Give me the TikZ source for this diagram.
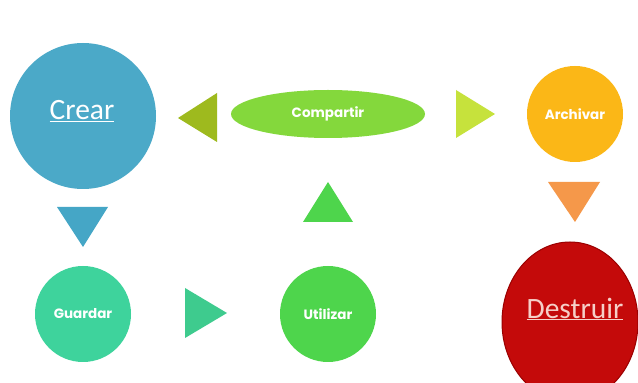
\documentclass[tikz,border=0pt]{standalone}
\usepackage{fontspec}
\usetikzlibrary{shapes.geometric}
\setmainfont{Carlito}
\newfontfamily\labelfont{Poppins}
\definecolor{crearblue}{HTML}{4BA9C8}
\definecolor{oliveleft}{HTML}{9EBA1E}
\definecolor{sharegreen}{HTML}{84D83C}
\definecolor{limeright}{HTML}{C6E23C}
\definecolor{archiveamber}{HTML}{FBB717}
\definecolor{downorange}{HTML}{F5984A}
\definecolor{destroyred}{HTML}{C40A0A}
\definecolor{destroyedge}{HTML}{9A0000}
\definecolor{destroytext}{HTML}{F6CFC8}
\definecolor{downblue}{HTML}{45A6C6}
\definecolor{saveteal}{HTML}{3ED39C}
\definecolor{tealright}{HTML}{3ECB8E}
\definecolor{usegreen}{HTML}{4ED54C}
\tikzset{
  stage/.style={circle,inner sep=0pt,text=white,font=\labelfont\bfseries\fontsize{13.5}{15}\selectfont},
  bigword/.style={font=\fontsize{29.5}{32}\selectfont}
}
\begin{document}
\begin{tikzpicture}[x=1pt,y=1pt]
			\clip (0,0) rectangle (638,383);
			\fill[white] (0,0) rectangle (638,383);% background

			\node[stage,fill=crearblue,minimum size=146pt] (crear) at (83,267) {};
			\node[bigword,text=white] at (82,272) {\underline{Crear}};
			\node[stage,fill=sharegreen,ellipse,minimum width=194pt,minimum height=48pt] (compartir) at (328,269) {Compartir};
			\node[stage,fill=archiveamber,minimum size=96pt] (archivar) at (575,269) {Archivar};
			\node[stage,fill=saveteal,minimum size=96pt] (guardar) at (83,69) {Guardar};
			\node[stage,fill=usegreen,minimum size=96pt] (utilizar) at (328,69) {Utilizar};
			\draw[fill=destroyred,draw=destroyedge,line width=1pt] (570,61) ellipse (68 and 80);% cut off by the frame
			\node[bigword,text=destroytext] (destruir) at (575,74) {\underline{Destruir}};

			\fill[oliveleft] (178,265) -- (217,290) -- (217,241) -- cycle;% towards Crear
			\fill[limeright] (456,293) -- (456,245) -- (495,269) -- cycle;% towards Archivar
			\fill[downorange] (548,201) -- (600,201) -- (575,161) -- cycle;% towards Destruir
			\fill[downblue] (57,176) -- (108,176) -- (83,136) -- cycle;% towards Guardar
			\fill[tealright] (185,95) -- (185,45) -- (227,70) -- cycle;% towards Utilizar
			\fill[usegreen] (303,161) -- (353,161) -- (328,201) -- cycle;% towards Compartir
		\end{tikzpicture}
\end{document}
